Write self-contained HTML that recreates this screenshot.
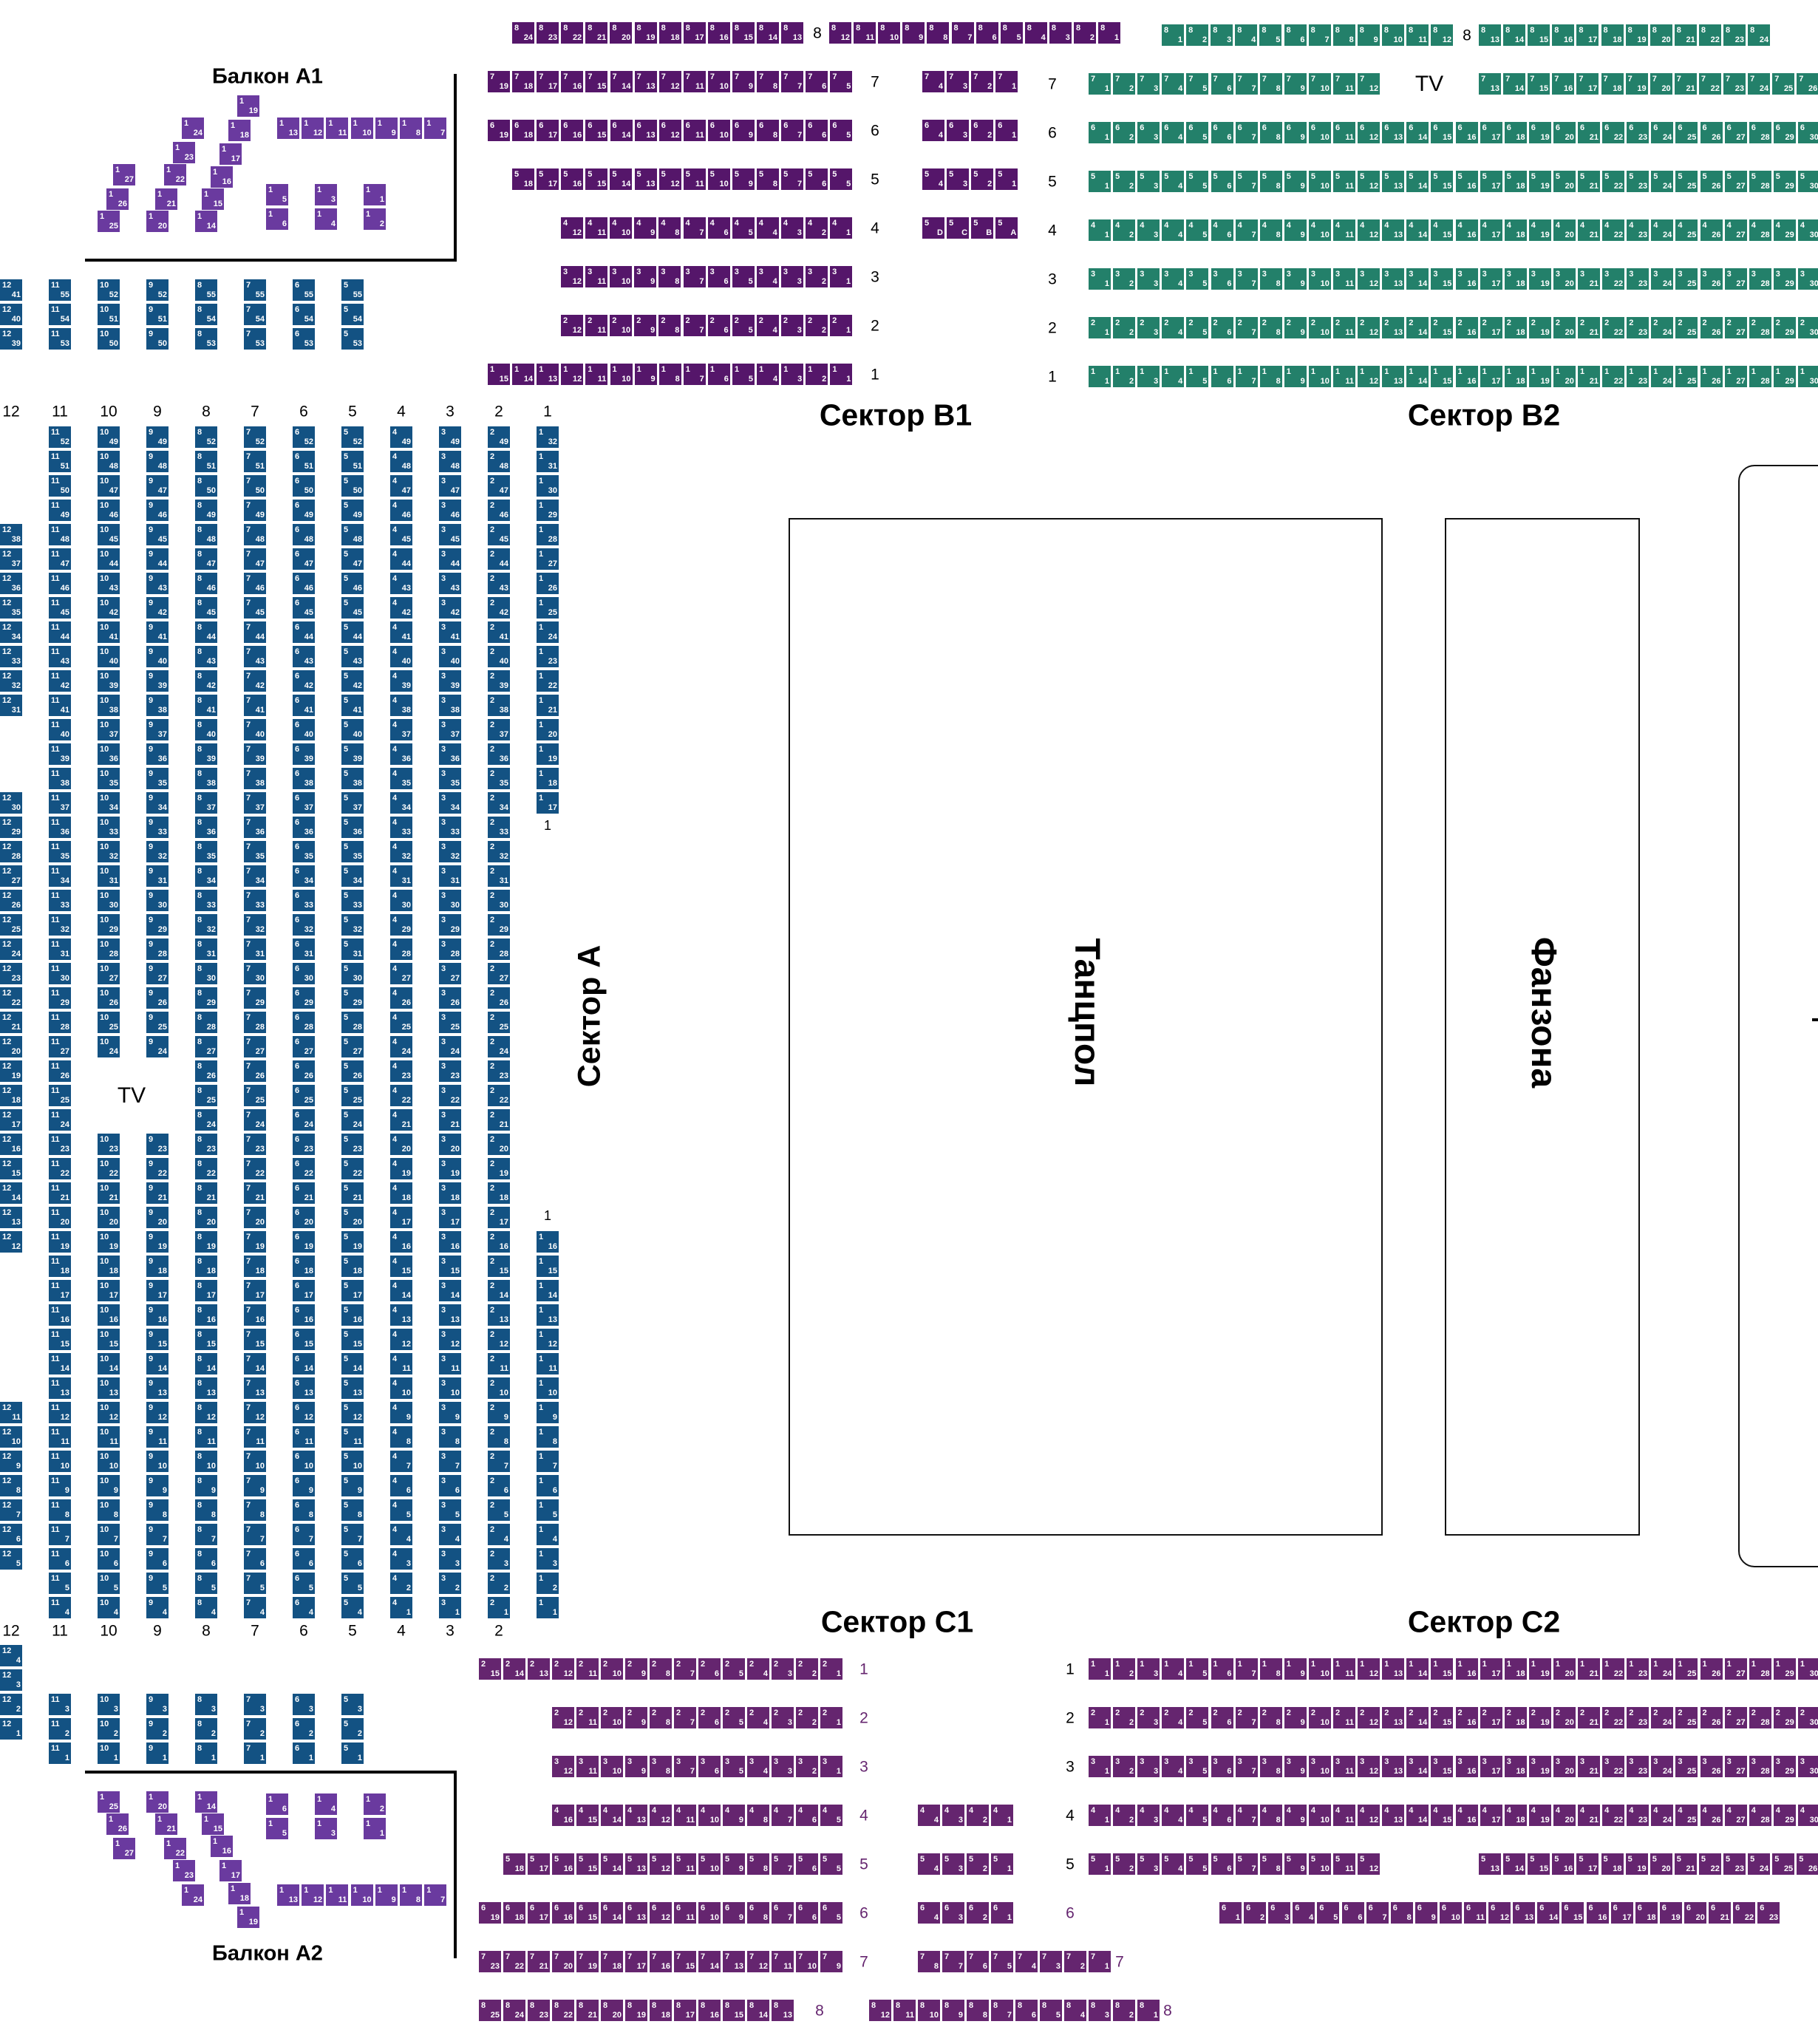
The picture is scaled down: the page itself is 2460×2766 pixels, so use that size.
<!DOCTYPE html>
<html><head><meta charset="utf-8">
<style>
html,body{margin:0;padding:0;background:#fff;}
#m{position:relative;width:2460px;height:2766px;overflow:hidden;background:#fff;font-family:"Liberation Sans",sans-serif;}
.s{position:absolute;width:30px;height:29px;color:#fff;font-weight:bold;font-size:11px;line-height:11px;}
.s i{position:absolute;left:3px;top:3px;font-style:normal;}
.s b{position:absolute;right:2px;bottom:2px;}
.bl{background:#135283;}
.pd{background:#55166a;}
.pb{background:#6a3a9f;}
.pc{background:#65256f;}
.gr{background:#23806a;}
.l{position:absolute;transform:translate(-50%,-50%);font-size:21px;color:#000;white-space:nowrap;line-height:1;}
.pl{color:#65256f;}
.t{position:absolute;transform:translate(-50%,-50%);font-size:41px;font-weight:bold;white-space:nowrap;line-height:1;}
.bx{position:absolute;border:2.5px solid #111;box-sizing:border-box;}
.ln{position:absolute;background:#000;}
</style></head><body>
<div id="m"></div>
<script>
var h=[];
function S(x,y,t,b,c){h.push('<div class="s '+c+'" style="left:'+x.toFixed(1)+'px;top:'+y.toFixed(1)+'px"><i>'+t+'</i><b>'+b+'</b></div>');}
function L(x,y,t,c,fs){h.push('<div class="l '+(c||'')+'" style="left:'+x+'px;top:'+y+'px;'+(fs?'font-size:'+fs+'px;':'')+'">'+t+'</div>');}
function T(x,y,t,rot,fs){h.push('<div class="t" style="left:'+x+'px;top:'+y+'px;'+(fs?'font-size:'+fs+'px;':'')+(rot?'transform:translate(-50%,-50%) rotate('+rot+'deg);':'')+'">'+t+'</div>');}
function R(x0,y,top,a,b,c,p){p=p||33.1;var st=a<=b?1:-1,i=0;for(var n=a;st>0?n<=b:n>=b;n+=st){S(x0+i*p,y,top,n,c);i++;}}
function cx(c){return 726-(c-1)*66;}
var topA={12:[41,40,39],11:[55,54,53],10:[52,51,50],9:[52,51,50],8:[55,54,53],7:[55,54,53],6:[55,54,53],5:[55,54,53]};
for(var c in topA){topA[c].forEach(function(n,i){S(cx(+c),378+33*i,c,n,'bl');});}
function Y(k){return 576.5+33*k;}
function col(c,a,b,off){for(var n=a;n>=b;n--)S(cx(c),Y(off-n),c,n,'bl');}
col(11,52,4,52);
[10,9].forEach(function(c){col(c,49,24,49);col(c,23,4,52);});
[8,7,6,5].forEach(function(c){col(c,52,4,52);});
[4,3,2].forEach(function(c){col(c,49,1,49);});
col(12,38,31,42);col(12,30,12,45);col(12,11,5,51);
col(1,32,17,32);col(1,16,1,49);
for(var c=12;c>=1;c--){L(cx(c)+15,557,c);if(c>=2)L(cx(c)+15,2207,c);}
L(741,1117,1,'',18);L(741,1645,1,'',18);
L(178,1483,'TV','',30);
for(var n=4;n>=1;n--)S(0,2226+33*(4-n),12,n,'bl');
for(var c=11;c>=5;c--)for(var n=3;n>=1;n--)S(cx(c),2292+33*(3-n),c,n,'bl');
var a1=[[321,129,19],[246,159,24],[309,162,18],[234,192,23],[297,194,17],[153,222,27],[222,222,22],[285,225,16],[144,255,26],[210,255,21],[273,255,15],[360,249,5],[426,249,3],[492,249,1],[132,285,25],[198,285,20],[264,285,14],[360,282,6],[426,282,4],[492,282,2]];
a1.forEach(function(s){S(s[0],s[1],1,s[2],'pb');});
R(375,159,1,13,7,'pb',33.2);
T(362,104,'Балкон A1',0,29);
h.push('<div class="ln" style="left:614px;top:100px;width:4px;height:253px"></div><div class="ln" style="left:115px;top:350px;width:503px;height:4px"></div>');
var a2=[[132,2424,25],[198,2424,20],[264,2424,14],[360,2427,6],[426,2427,4],[492,2427,2],[144,2454,26],[210,2454,21],[273,2454,15],[360,2460,5],[426,2460,3],[492,2460,1],[153,2487,27],[222,2487,22],[285,2484,16],[234,2517,23],[297,2517,17],[246,2550,24],[309,2548,18],[321,2580,19]];
a2.forEach(function(s){S(s[0],s[1],1,s[2],'pb');});
R(375,2550,1,13,7,'pb',33.2);
T(362,2644,'Балкон A2',0,29);
h.push('<div class="ln" style="left:115px;top:2396px;width:503px;height:4px"></div><div class="ln" style="left:614px;top:2396px;width:4px;height:254px"></div>');
var by={8:30,7:96,6:162,5:228,4:294,3:360,2:426,1:492};
R(693,by[8],8,24,13,'pd');L(1106,by[8]+15,8);R(1122,by[8],8,12,1,'pd');
R(660,by[7],7,19,5,'pd');R(1248,by[7],7,4,1,'pd');
R(660,by[6],6,19,5,'pd');R(1248,by[6],6,4,1,'pd');
R(693,by[5],5,18,5,'pd');R(1248,by[5],5,4,1,'pd');
R(759,by[4],4,12,1,'pd');['D','C','B','A'].forEach(function(s,i){S(1248+i*33.1,by[4],5,s,'pd');});
R(759,by[3],3,12,1,'pd');R(759,by[2],2,12,1,'pd');R(660,by[1],1,15,1,'pd');
for(var r=1;r<=7;r++){L(1184,by[r]+15,r);L(1424,by[r]+18,r);}
R(1572,33,8,1,12,'gr');L(1985,48,8);R(2001,33,8,13,24,'gr');
R(1473,99,7,1,12,'gr');L(1934,114,'TV','',30);R(2001,99,7,13,26,'gr');
for(var r=6;r>=1;r--)R(1473,99+66*(7-r),r,1,30,'gr');
T(1212,562,'Сектор B1');T(2008,562,'Сектор B2');T(1214,2195,'Сектор C1');T(2008,2195,'Сектор C2');
var cy={1:2244,2:2310,3:2376,4:2442,5:2508,6:2574,7:2640,8:2706};
R(648,cy[1],2,15,1,'pc',33);
R(747,cy[2],2,12,1,'pc',33);R(747,cy[3],3,12,1,'pc',33);
R(747,cy[4],4,16,5,'pc',33);R(1242,cy[4],4,4,1,'pc',33);
R(681,cy[5],5,18,5,'pc',33);R(1242,cy[5],5,4,1,'pc',33);
R(648,cy[6],6,19,5,'pc',33);R(1242,cy[6],6,4,1,'pc',33);
R(648,cy[7],7,23,9,'pc',33);R(1242,cy[7],7,8,1,'pc',33);L(1515,cy[7]+15,7,'pl');
R(648,cy[8],8,25,13,'pc',33);L(1109,cy[8]+15,8,'pl');R(1176,cy[8],8,12,1,'pc',33);L(1580,cy[8]+15,8,'pl');
for(var r=1;r<=7;r++)L(1169,cy[r]+15,r,'pl');
for(var r=1;r<=6;r++)L(1448,cy[r]+15,r,r==6?'pl':'');
for(var r=1;r<=4;r++)R(1473,cy[r],r,1,30,'pc');
R(1473,cy[5],5,1,12,'pc');R(2001,cy[5],5,13,26,'pc');
R(1650,cy[6],6,1,23,'pc');
h.push('<div class="bx" style="left:1067px;top:701px;width:804px;height:1377px"></div>');
h.push('<div class="bx" style="left:1955px;top:701px;width:264px;height:1377px"></div>');
h.push('<div class="bx" style="left:2352px;top:629px;width:160px;height:1492px;border-radius:22px"></div>');
h.push('<div class="ln" style="left:2452px;top:1378px;width:8px;height:4px"></div>');
T(1470,1370,'Танцпол',90,48);T(2088,1370,'Фанзона',90,48);T(798,1375,'Сектор A',-90,43);
document.getElementById('m').innerHTML=h.join('');
</script>
</body></html>
